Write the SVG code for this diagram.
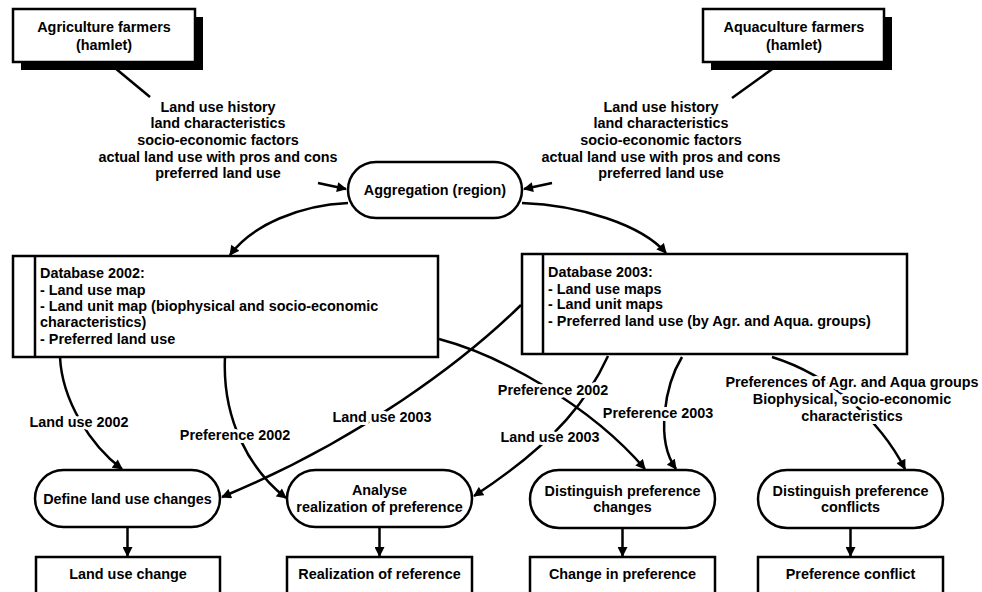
<svg xmlns="http://www.w3.org/2000/svg" width="982" height="592" viewBox="0 0 982 592">
<style>
text{font-family:"Liberation Sans",Arial,sans-serif;font-weight:bold;font-size:14.4px;fill:#000}
.c{text-anchor:middle}
.box{fill:#fff;stroke:#000;stroke-width:2.5}
.sh{fill:#000}
.ln{fill:none;stroke:#000;stroke-width:2.5}
.lbl{text-anchor:middle;stroke:#fff;stroke-width:6;paint-order:stroke;stroke-linejoin:round}
</style>
<defs>
<marker id="ah" viewBox="0 0 10 10" refX="9" refY="5" markerWidth="4.4" markerHeight="4" orient="auto" markerUnits="strokeWidth">
<path d="M0,0 L10,5 L0,10 z" fill="#000"/>
</marker>
</defs>
<rect width="982" height="592" fill="#fff"/>

<g id="agri">
<rect class="sh" x="21" y="17" width="182" height="53"/>
<rect class="box" x="13" y="9" width="182" height="53"/>
<text class="c" x="104" y="32">Agriculture farmers</text>
<text class="c" x="104" y="50">(hamlet)</text>
</g>
<g id="aqua">
<rect class="sh" x="711" y="17" width="181" height="53"/>
<rect class="box" x="703" y="9" width="181" height="53"/>
<text class="c" x="794" y="32">Aquaculture farmers</text>
<text class="c" x="794" y="50">(hamlet)</text>
</g>

<g id="info-left">
<text class="c" x="218" y="112">Land use history</text>
<text class="c" x="218" y="128">land characteristics</text>
<text class="c" x="218" y="145">socio-economic factors</text>
<text class="c" x="218" y="162">actual land use with pros and cons</text>
<text class="c" x="218" y="178">preferred land use</text>
</g>
<g id="info-right">
<text class="c" x="661" y="112">Land use history</text>
<text class="c" x="661" y="128">land characteristics</text>
<text class="c" x="661" y="145">socio-economic factors</text>
<text class="c" x="661" y="162">actual land use with pros and cons</text>
<text class="c" x="661" y="178">preferred land use</text>
</g>

<g id="aggregation">
<rect class="box" x="348" y="162" width="174" height="56" rx="28"/>
<text class="c" x="435" y="195">Aggregation (region)</text>
</g>

<g id="db2002">
<rect class="box" x="13" y="256" width="425" height="101"/>
<line class="ln" x1="35" y1="256" x2="35" y2="357"/>
<text x="40" y="278">Database 2002:</text>
<text x="40" y="295">- Land use map</text>
<text x="40" y="311">- Land unit map (biophysical and socio-economic</text>
<text x="40" y="327">characteristics)</text>
<text x="40" y="344">- Preferred land use</text>
</g>
<g id="db2003">
<rect class="box" x="522" y="254" width="385" height="100"/>
<line class="ln" x1="543" y1="254" x2="543" y2="354"/>
<text x="548" y="277">Database 2003:</text>
<text x="548" y="294">- Land use maps</text>
<text x="548" y="309">- Land unit maps</text>
<text x="548" y="326">- Preferred land use (by Agr. and Aqua. groups)</text>
</g>

<g id="define">
<rect class="box" x="35" y="470" width="185" height="57" rx="28.5"/>
<text class="c" x="127.5" y="504">Define land use changes</text>
</g>
<g id="analyse">
<rect class="box" x="287" y="470" width="185" height="57" rx="28.5"/>
<text class="c" x="379.5" y="495">Analyse</text>
<text class="c" x="379.5" y="512">realization of preference</text>
</g>
<g id="distinguish-changes">
<rect class="box" x="530" y="470" width="185" height="58" rx="29"/>
<text class="c" x="622.5" y="496">Distinguish preference</text>
<text class="c" x="622.5" y="512">changes</text>
</g>
<g id="distinguish-conflicts">
<rect class="box" x="758" y="470" width="185" height="58" rx="29"/>
<text class="c" x="850.5" y="496">Distinguish preference</text>
<text class="c" x="850.5" y="512">conflicts</text>
</g>

<g id="out-landuse">
<rect class="box" x="36" y="557" width="184" height="45"/>
<text class="c" x="128" y="579">Land use change</text>
</g>
<g id="out-realization">
<rect class="box" x="287" y="557" width="185" height="45"/>
<text class="c" x="379.5" y="579">Realization of reference</text>
</g>
<g id="out-change">
<rect class="box" x="530" y="557" width="185" height="45"/>
<text class="c" x="622.5" y="579">Change in preference</text>
</g>
<g id="out-conflict">
<rect class="box" x="758" y="557" width="185" height="45"/>
<text class="c" x="850.5" y="579">Preference conflict</text>
</g>

<g id="connectors">
<path class="ln" d="M115,68 L150,97"/>
<path class="ln" d="M775,67 L732,98"/>
<path class="ln" d="M318,183 L346,189" marker-end="url(#ah)"/>
<path class="ln" d="M552,183 L524,189" marker-end="url(#ah)"/>
<path class="ln" d="M348,203 C300,205 252,225 230,255" marker-end="url(#ah)"/>
<path class="ln" d="M522,203 C580,205 642,225 666,253" marker-end="url(#ah)"/>
<path class="ln" d="M60,357 C62,400 90,445 122,469" marker-end="url(#ah)"/>
<path class="ln" d="M225,357 C222,420 250,470 286,498" marker-end="url(#ah)"/>
<path class="ln" d="M521,305 C465,360 360,440 222,497" marker-end="url(#ah)"/>
<path class="ln" d="M439,339 C500,355 590,405 645,469" marker-end="url(#ah)"/>
<path class="ln" d="M608,356 C590,395 560,440 474,496" marker-end="url(#ah)"/>
<path class="ln" d="M682,357 C665,385 655,440 676,469" marker-end="url(#ah)"/>
<path class="ln" d="M772,357 C830,375 880,420 905,469" marker-end="url(#ah)"/>
<path class="ln" d="M127.5,528 L127.5,556" marker-end="url(#ah)"/>
<path class="ln" d="M379.5,528 L379.5,556" marker-end="url(#ah)"/>
<path class="ln" d="M622.5,529 L622.5,556" marker-end="url(#ah)"/>
<path class="ln" d="M850.5,529 L850.5,556" marker-end="url(#ah)"/>
<text class="lbl" x="79" y="427">Land use 2002</text>
<text class="lbl" x="235" y="440">Preference 2002</text>
<text class="lbl" x="382" y="422">Land use 2003</text>
<text class="lbl" x="553" y="395">Preference 2002</text>
<text class="lbl" x="550" y="442">Land use 2003</text>
<text class="lbl" x="658" y="418">Preference 2003</text>
<text class="lbl" x="852" y="387">Preferences of Agr. and Aqua groups</text>
<text class="lbl" x="852" y="404">Biophysical, socio-economic</text>
<text class="lbl" x="852" y="421">characteristics</text>
</g>
</svg>
